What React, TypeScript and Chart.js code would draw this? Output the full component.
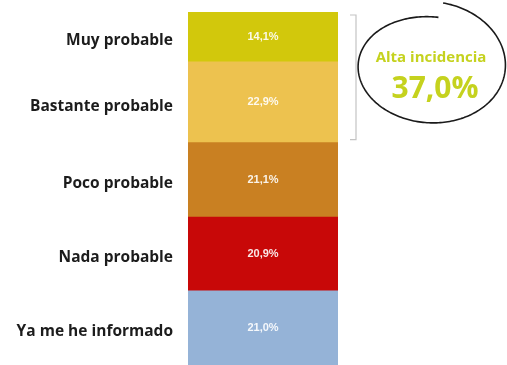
import React, { useEffect, useRef } from "react";
import { Chart, registerables } from "chart.js";

Chart.register(...registerables);

const categories = ["Muy probable", "Bastante probable", "Poco probable", "Nada probable", "Ya me he informado"];
const values = [14.1, 22.9, 21.1, 20.9, 21.0];
const valueLabels = ["14,1%", "22,9%", "21,1%", "20,9%", "21,0%"];
const colors = ["#D2C80C", "#EDC24F", "#C98022", "#C80808", "#95B3D7"];
const highlightTitle = "Alta incidencia";
const highlightValue = "37,0%";

const overlayPlugin = {
  id: "overlay",
  afterDatasetsDraw(chart: any) {
    const ctx = chart.ctx;
    const n = chart.data.datasets.length;
    ctx.save();
    for (let i = 0; i < n; i++) {
      const meta = chart.getDatasetMeta(i);
      const el = meta.data[0];
      if (!el) continue;
      const ds = chart.data.datasets[i];
      const cy = (el.y + el.base) / 2;
      const left = el.x - el.width / 2;
      ctx.fillStyle = "#1c1c1c";
      ctx.font = "bold 15.5px 'Open Sans', 'Liberation Sans', sans-serif";
      ctx.textAlign = "right";
      ctx.textBaseline = "middle";
      ctx.fillText(ds.label, left - 15, cy + 4);
      ctx.fillStyle = "rgba(255,255,255,0.9)";
      ctx.font = "bold 11px 'Liberation Sans', sans-serif";
      ctx.textAlign = "center";
      ctx.fillText(ds.valueLabel, el.x, cy);
    }
    const top = chart.getDatasetMeta(n - 1).data[0];
    const second = chart.getDatasetMeta(n - 2).data[0];
    if (top && second) {
      const right = top.x + top.width / 2;
      const y1 = top.y + 3;
      const y2 = second.base - 3;
      ctx.strokeStyle = "#c4c4c4";
      ctx.lineWidth = 1.2;
      ctx.beginPath();
      ctx.moveTo(right + 12, y1);
      ctx.lineTo(right + 18, y1);
      ctx.lineTo(right + 18, y2);
      ctx.lineTo(right + 12, y2);
      ctx.stroke();
      // hand-drawn ellipse
      const ex = right + 92;
      const ey = 66;
      ctx.strokeStyle = "#1a1a1a";
      ctx.lineWidth = 1.6;
      ctx.beginPath();
      const t0 = -1.45;
      const sweep = Math.PI * 2 - 0.05;
      const steps = 240;
      for (let s = 0; s <= steps; s++) {
        const f = s / steps;
        const t = t0 - f * sweep;
        const rx = 70 + f * 7;
        const ry = 49 + f * 15;
        const x = ex + rx * Math.cos(t);
        const y = ey + ry * Math.sin(t);
        if (s === 0) ctx.moveTo(x, y);
        else ctx.lineTo(x, y);
      }
      ctx.stroke();
      ctx.fillStyle = "#C5D21E";
      ctx.textAlign = "center";
      ctx.textBaseline = "middle";
      ctx.font = "bold 15px 'Open Sans', 'Liberation Sans', sans-serif";
      ctx.fillText(highlightTitle, ex + 1, 58);
      ctx.font = "bold 30px 'Open Sans', 'Liberation Sans', sans-serif";
      ctx.fillText(highlightValue, ex + 5, 89);
    }
    ctx.restore();
  },
};

export default function App() {
  const ref = useRef<HTMLCanvasElement | null>(null);
  useEffect(() => {
    document.body.style.margin = "0";
    const canvas = ref.current;
    if (!canvas) return;
    const datasets = categories
      .map((c, i) => ({
        label: c,
        data: [values[i]],
        backgroundColor: colors[i],
        borderWidth: 0,
        barPercentage: 1,
        categoryPercentage: 1,
        valueLabel: valueLabels[i],
      }))
      .reverse();
    const chart = new Chart(canvas, {
      type: "bar",
      data: { labels: [""], datasets: datasets as any },
      options: {
        animation: false,
        responsive: false,
        maintainAspectRatio: false,
        layout: { padding: { left: 188, right: 169, top: 12, bottom: 0 } },
        plugins: { legend: { display: false }, tooltip: { enabled: false } },
        scales: {
          x: { stacked: true, display: false },
          y: { stacked: true, display: false, min: 0, max: 100 },
        },
      },
      plugins: [overlayPlugin],
    });
    return () => chart.destroy();
  }, []);
  return (
    <div style={{ width: 507, height: 365, background: "#fff" }}>
      <canvas ref={ref} width={507} height={365} style={{ display: "block" }} />
    </div>
  );
}
